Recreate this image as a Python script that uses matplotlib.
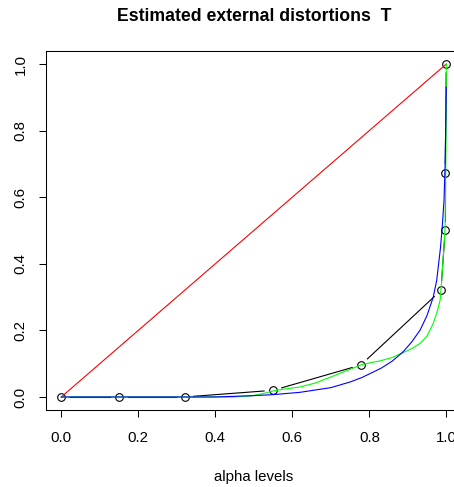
import numpy as np
import matplotlib
matplotlib.use('Agg')
import matplotlib.pyplot as plt

plt.rcParams['font.family'] = ['Liberation Sans', 'DejaVu Sans']

# estimated points (alpha level, T)
alpha = [0.0, 0.15, 0.32, 0.55, 0.778, 0.986, 0.997, 0.997, 1.0]
T_est = [0.0, 0.0, 0.0, 0.02, 0.096, 0.32, 0.50, 0.674, 1.0]

# identity (red)
ident_x = [0.0, 1.0]
ident_y = [0.0, 1.0]

# green fitted curve
green_x = [0.0, 0.45, 0.49, 0.52, 0.55, 0.58, 0.62, 0.66, 0.70, 0.73, 0.75, 0.778,
           0.80, 0.83, 0.86, 0.88, 0.91, 0.932, 0.95, 0.966, 0.976, 0.984, 0.988,
           0.992, 0.995, 0.997, 0.999, 1.0]
green_y = [0.0, 0.0, 0.003, 0.009, 0.018, 0.024, 0.030, 0.042, 0.060, 0.074, 0.083, 0.096,
           0.102, 0.109, 0.119, 0.129, 0.145, 0.161, 0.183, 0.221, 0.255, 0.291, 0.351,
           0.42, 0.47, 0.52, 0.75, 1.0]

# blue fitted curve
blue_x = [0.0, 0.40, 0.50, 0.55, 0.62, 0.70, 0.75, 0.78, 0.83, 0.86, 0.888, 0.91,
          0.932, 0.95, 0.966, 0.975, 0.985, 0.99, 0.994, 0.997, 0.999, 1.0]
blue_y = [0.0, 0.0, 0.004, 0.007, 0.014, 0.028, 0.045, 0.058, 0.086, 0.108, 0.136, 0.165,
          0.201, 0.245, 0.30, 0.35, 0.45, 0.52, 0.59, 0.70, 0.85, 0.93]

fig = plt.figure(figsize=(4.54, 4.87), dpi=100)
ax = fig.add_axes([0.1011, 0.1575, 0.9159, 0.7384])
ax.set_xlim(-0.04, 1.04)
ax.set_ylim(-0.04, 1.04)

# R type="b": line segments with gaps around the points
gap = 9.0
pts = ax.transData.transform(np.column_stack([alpha, T_est]))
inv = ax.transData.inverted()
for i in range(len(pts) - 1):
    p0, p1 = pts[i], pts[i + 1]
    d = p1 - p0
    L = np.hypot(d[0], d[1])
    if L <= 2 * gap:
        continue
    u = d / L
    a = inv.transform(p0 + u * gap)
    b = inv.transform(p1 - u * gap)
    ax.plot([a[0], b[0]], [a[1], b[1]], color='black', lw=0.8)

ax.plot(alpha, T_est, 'o', mfc='none', mec='black', ms=5.5, mew=0.8)
ax.plot(ident_x, ident_y, color='red', lw=0.8)
ax.plot(green_x, green_y, color='#00ff00', lw=0.8)
ax.plot(blue_x, blue_y, color='blue', lw=0.8)

ax.set_xticks([0.0, 0.2, 0.4, 0.6, 0.8, 1.0])
ax.set_yticks([0.0, 0.2, 0.4, 0.6, 0.8, 1.0])
ax.set_xticklabels(['0.0', '0.2', '0.4', '0.6', '0.8', '1.0'])
ax.set_yticklabels(['0.0', '0.2', '0.4', '0.6', '0.8', '1.0'], rotation=90, va='center')
ax.tick_params(axis='both', direction='out', length=5, width=0.75, labelsize=10.8)
ax.tick_params(axis='x', pad=10)
ax.tick_params(axis='y', pad=8)
for s in ax.spines.values():
    s.set_linewidth(0.75)

ax.set_xlabel('alpha levels', fontsize=10.8, labelpad=18)
ax.set_title('Estimated external distortions  T', fontsize=12.7, fontweight='bold', pad=21.5)

fig.savefig('out.png', dpi=100)
